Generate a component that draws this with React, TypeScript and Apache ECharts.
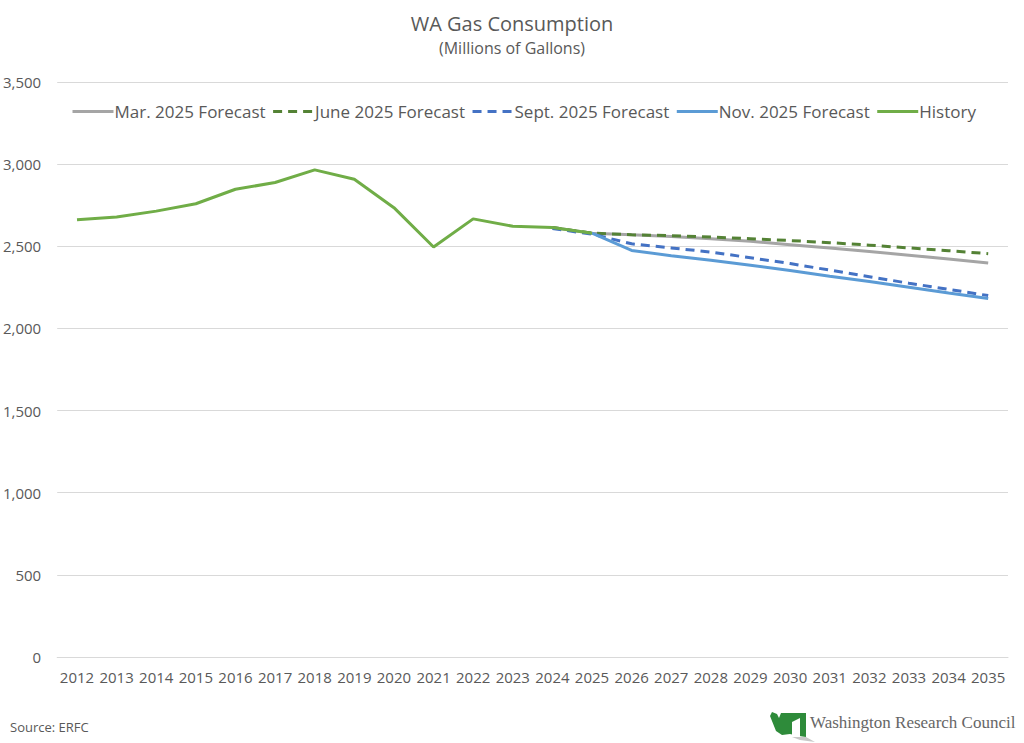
import React, { useEffect, useRef } from "react";
import * as echarts from "echarts";

const years = ["2012","2013","2014","2015","2016","2017","2018","2019","2020","2021","2022","2023","2024","2025","2026","2027","2028","2029","2030","2031","2032","2033","2034","2035"];
const history = [2661, 2678, 2714, 2759, 2847, 2888, 2965, 2908, 2735, 2496, 2667, 2622, 2614, 2580, null, null, null, null, null, null, null, null, null, null];
const marForecast = [null, null, null, null, null, null, null, null, null, null, null, null, 2614, 2580, 2570, 2560, 2546, 2530, 2510, 2490, 2468, 2446, 2422, 2398];
const juneForecast = [null, null, null, null, null, null, null, null, null, null, null, null, 2614, 2580, 2570, 2565, 2556, 2546, 2535, 2522, 2507, 2490, 2473, 2455];
const septForecast = [null, null, null, null, null, null, null, null, null, null, null, null, 2608, 2574, 2515, 2490, 2465, 2430, 2395, 2355, 2315, 2275, 2238, 2200];
const novForecast = [null, null, null, null, null, null, null, null, null, null, null, null, null, 2580, 2475, 2443, 2415, 2385, 2352, 2318, 2285, 2250, 2215, 2182];

const FONT = "'Open Sans', 'Noto Sans', sans-serif";
const TXT = "#595959";

export default function App() {
  const ref = useRef<HTMLDivElement>(null);
  useEffect(() => {
    if (!ref.current) return;
    const chart = echarts.init(ref.current, null, { renderer: "svg" });
    const mk = (name: string, data: any[], color: string, type: any) => ({
      name,
      type: "line",
      data,
      symbol: "none",
      connectNulls: false,
      lineStyle: { color, width: 3, type },
      itemStyle: { color },
      emphasis: { disabled: true },
    });
    chart.setOption({
      animation: false,
      backgroundColor: "#ffffff",
      textStyle: { fontFamily: FONT },
      title: {
        text: "WA Gas Consumption",
        subtext: "(Millions of Gallons)",
        left: "center",
        top: 8,
        itemGap: 7,
        textStyle: { fontFamily: FONT, fontSize: 20, fontWeight: "normal", color: TXT },
        subtextStyle: { fontFamily: FONT, fontSize: 16, color: TXT },
      },
      legend: {
        top: 98,
        left: 66,
        itemWidth: 41,
        itemHeight: 14,
        itemGap: 6,
        itemStyle: { opacity: 0 },
        lineStyle: { width: 3 },
        textStyle: { fontFamily: FONT, fontSize: 17, color: TXT, padding: [0, 0, 0, -4] },
        data: ["Mar. 2025 Forecast", "June 2025 Forecast", "Sept. 2025 Forecast", "Nov. 2025 Forecast", "History"],
      },
      grid: { left: 57, right: 16, top: 82, bottom: 86, containLabel: false },
      xAxis: {
        type: "category",
        data: years,
        boundaryGap: true,
        axisLine: { lineStyle: { color: "#d9d9d9", width: 1 } },
        axisTick: { show: false },
        axisLabel: { color: TXT, fontSize: 15, fontFamily: FONT, margin: 12, interval: 0 },
      },
      yAxis: {
        type: "value",
        min: 0,
        max: 3500,
        interval: 500,
        axisLine: { show: false },
        axisTick: { show: false },
        splitLine: { lineStyle: { color: "#d9d9d9", width: 1 } },
        axisLabel: {
          color: TXT,
          fontSize: 15,
          fontFamily: FONT,
          margin: 16,
          formatter: (v: number) => v.toLocaleString("en-US"),
        },
      },
      series: [
        mk("Mar. 2025 Forecast", marForecast, "#A5A5A5", "solid"),
        mk("June 2025 Forecast", juneForecast, "#548235", [9, 6]),
        mk("Sept. 2025 Forecast", septForecast, "#4472C4", [9, 6]),
        mk("Nov. 2025 Forecast", novForecast, "#5B9BD5", "solid"),
        mk("History", history, "#70AD47", "solid"),
      ],
      graphic: [
        {
          type: "text",
          left: 10,
          top: 720,
          style: { text: "Source: ERFC", font: `13px ${FONT}`, fill: TXT },
        },
        {
          type: "polygon",
          shape: {
            points: [[776, 731], [770, 716], [772, 712], [777, 714], [779, 718], [781, 713], [806, 713], [806, 737], [799, 736], [790, 734], [782, 735]],
          },
          style: { fill: "#2e8b3a" },
        },
        {
          type: "polygon",
          shape: { points: [[792, 722], [800, 718], [800, 740], [792, 737]] },
          style: { fill: "#ffffff" },
        },
        {
          type: "polygon",
          shape: { points: [[792, 737], [800, 740], [815, 742], [806, 737]] },
          style: { fill: "#c8c8c8" },
        },
        {
          type: "text",
          left: 810,
          top: 714,
          style: {
            text: "Washington Research Council",
            font: "17px 'Liberation Serif', 'DejaVu Serif', serif",
            fill: "#666666",
          },
        },
      ],
    });
    return () => chart.dispose();
  }, []);
  return <div ref={ref} style={{ width: 1024, height: 743, position: "absolute", left: 0, top: 0 }} />;
}
